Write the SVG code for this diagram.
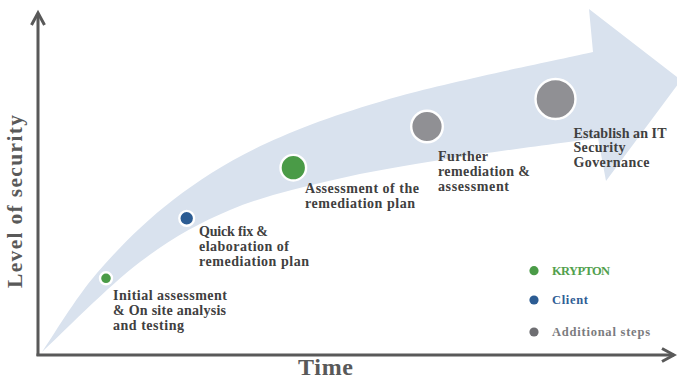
<svg xmlns="http://www.w3.org/2000/svg" width="677" height="379" viewBox="0 0 677 379">
<style>
.lbl{font-family:"Liberation Serif","Times New Roman",serif;font-weight:bold;font-size:14px;fill:#404040}
.leg{font-family:"Liberation Serif","Times New Roman",serif;font-weight:bold;font-size:12.5px}
.axl{font-family:"Liberation Serif","Times New Roman",serif;font-weight:bold;fill:#595959}
.axis{fill:none;stroke:#595959;stroke-width:3}
.dot{stroke:#ffffff;stroke-width:2.4}
</style>
<rect width="677" height="379" fill="#ffffff"/>
<g id="band">
<path fill="#d9e2ee" d="M42,352 C51.2,338.8 75.2,298.3 97,273 C118.8,247.7 144.7,221.7 173,200 C201.3,178.3 229.2,160.3 267,143 C304.8,125.7 345.7,111.2 400,96 C454.3,80.8 560.8,59.3 593,52 L589,9 L681,80 L606,181 L598,138 C572.8,141.5 491.2,152 447,159 C402.8,166 369.2,171.5 333,180 C296.8,188.5 262.2,196.3 230,210 C197.8,223.7 171.3,238.3 140,262 C108.7,285.7 58.3,337 42,352 Z"/>
</g>
<g id="connectors">
<line class="axis" x1="38" y1="356" x2="38" y2="14"/>
<polyline class="axis" points="31.5,25 38,13 44.5,25"/>
<line class="axis" x1="36.5" y1="355" x2="674" y2="355"/>
<polyline class="axis" points="662,348.5 674,355 662,361.5"/>
</g>
<g id="axis-y-label"><text class="axl" font-size="21.5" transform="translate(22,201.5) rotate(-90)" text-anchor="middle" textLength="173" lengthAdjust="spacing">Level of security</text></g>
<g id="axis-x-label"><text class="axl" font-size="24" x="325.5" y="375" text-anchor="middle" textLength="55" lengthAdjust="spacing">Time</text></g>
<g id="step1">
<circle class="dot" cx="106" cy="278.3" r="6" fill="#4a9b47"/>
<text class="lbl" x="113" y="300" textLength="114" lengthAdjust="spacing">Initial assessment</text>
<text class="lbl" x="113" y="315" textLength="113" lengthAdjust="spacing">&amp; On site analysis</text>
<text class="lbl" x="113" y="329.5" textLength="71" lengthAdjust="spacing">and testing</text>
</g>
<g id="step2">
<circle class="dot" cx="186.7" cy="218.3" r="7.4" fill="#2c5c93"/>
<text class="lbl" x="199" y="236" textLength="69" lengthAdjust="spacing">Quick fix &amp;</text>
<text class="lbl" x="199" y="251" textLength="90" lengthAdjust="spacing">elaboration of</text>
<text class="lbl" x="199" y="266" textLength="110" lengthAdjust="spacing">remediation plan</text>
</g>
<g id="step3">
<circle class="dot" cx="293.3" cy="167.7" r="12.8" fill="#4a9b47"/>
<text class="lbl" x="305" y="193" textLength="114" lengthAdjust="spacing">Assessment of the</text>
<text class="lbl" x="305" y="208" textLength="110" lengthAdjust="spacing">remediation plan</text>
</g>
<g id="step4">
<circle class="dot" cx="427" cy="126.5" r="15.8" fill="#909094"/>
<text class="lbl" x="438" y="161" textLength="50" lengthAdjust="spacing">Further</text>
<text class="lbl" x="438" y="176" textLength="92" lengthAdjust="spacing">remediation &amp;</text>
<text class="lbl" x="438" y="191" textLength="71" lengthAdjust="spacing">assessment</text>
</g>
<g id="step5">
<circle class="dot" cx="555.5" cy="99" r="20" fill="#909094"/>
<text class="lbl" x="573.5" y="137.5" textLength="93" lengthAdjust="spacing">Establish an IT</text>
<text class="lbl" x="573.5" y="152" textLength="52" lengthAdjust="spacing">Security</text>
<text class="lbl" x="573.5" y="167" textLength="76" lengthAdjust="spacing">Governance</text>
</g>
<g id="legend">
<circle cx="534" cy="270.7" r="4.6" fill="#4a9b47"/>
<text class="leg" x="552" y="274.5" fill="#51a04d" textLength="58" lengthAdjust="spacing">KRYPTON</text>
<circle cx="534" cy="300" r="4.6" fill="#2c5c93"/>
<text class="leg" x="552" y="304" fill="#2f5e95" textLength="36" lengthAdjust="spacing">Client</text>
<circle cx="534" cy="332" r="4.6" fill="#6e6e72"/>
<text class="leg" x="552" y="336" fill="#7b7b7e" textLength="98" lengthAdjust="spacing">Additional steps</text>
</g>
</svg>
